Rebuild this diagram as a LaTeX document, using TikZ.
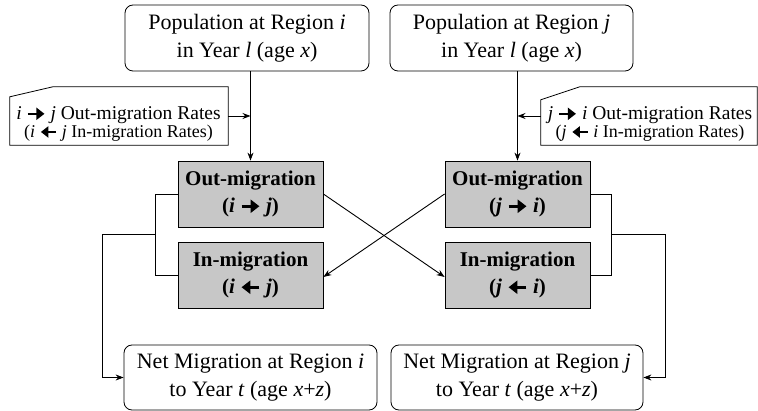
\documentclass[tikz,border=0pt]{standalone}
\usepackage{fontspec}
\setmainfont{Liberation Serif}
\usetikzlibrary{arrows.meta}
\newcommand{\rarr}{\tikz[baseline=0pt]\draw[line width=0.13em,-{Triangle[length=0.42em,width=0.62em]}] (0pt,0.3em) -- (0.85em,0.3em);}
\newcommand{\larr}{\tikz[baseline=0pt]\draw[line width=0.13em,-{Triangle[length=0.42em,width=0.62em]}] (0.85em,0.3em) -- (0pt,0.3em);}
\tikzset{
  popbox/.style={draw, rounded corners=8pt, line width=0.8pt, inner sep=0pt, align=center,
    font=\fontsize{22}{28}\selectfont},
  migbox/.style={draw, fill=black!22, line width=0.8pt, inner sep=0pt, align=center,
    font=\fontsize{21}{27}\selectfont\bfseries},
  ratearea/.style={inner sep=0pt},
  ratetext/.style={inner sep=0pt, align=center},
  conn/.style={line width=0.9pt},
  arr/.style={conn, -{Stealth[length=8pt,width=6pt]}},
}
\begin{document}
\begin{tikzpicture}[x=1pt,y=-1pt]
\useasboundingbox[fill=white] (0,0) rectangle (758,411);
% top boxes
\node[popbox, minimum width=244pt, minimum height=66pt] (topL) at (247,38)
  {Population at Region \textit{i}\\ in Year \textit{l} (age \textit{x})};
\node[popbox, minimum width=243pt, minimum height=66pt] (topR) at (511.5,38)
  {Population at Region \textit{j}\\ in Year \textit{l} (age \textit{x})};
% migration boxes
\node[migbox, minimum width=145pt, minimum height=66pt] (outL) at (250.5,194)
  {Out-migration\\ (\textit{i} \rarr\ \textit{j})};
\node[migbox, minimum width=145pt, minimum height=66pt] (inL) at (250.5,275)
  {In-migration\\ (\textit{i} \larr\ \textit{j})};
\node[migbox, minimum width=145pt, minimum height=66pt] (outR) at (517.5,194)
  {Out-migration\\ (\textit{j} \rarr\ \textit{i})};
\node[migbox, minimum width=145pt, minimum height=66pt] (inR) at (517.5,275)
  {In-migration\\ (\textit{j} \larr\ \textit{i})};
% net boxes
\node[popbox, minimum width=253pt, minimum height=65pt] (netL) at (250.5,377.5)
  {Net Migration at Region \textit{i}\\ to Year \textit{t} (age \textit{x}+\textit{z})};
\node[popbox, minimum width=252pt, minimum height=65pt] (netR) at (517,377.5)
  {Net Migration at Region \textit{j}\\ to Year \textit{t} (age \textit{x}+\textit{z})};
% rate boxes
\node[ratearea, minimum width=218pt, minimum height=58pt] (rateL) at (119,116) {};
\draw[line width=0.8pt] (rateL.south west) -- ([yshift=-10pt]rateL.north west)
  -- ([xshift=43pt]rateL.north west) -- (rateL.north east) -- (rateL.south east) -- cycle;
\node[ratetext] (rateLt) at (118.5,124)
  {{\fontsize{19.5}{22}\selectfont \textit{i} \rarr\ \textit{j} Out-migration Rates}\\
   {\fontsize{18}{17}\selectfont (\textit{i} \larr\ \textit{j} In-migration Rates)}};
\node[ratearea, minimum width=216pt, minimum height=58pt] (rateR) at (649,116) {};
\draw[line width=0.8pt] (rateR.south west) -- ([yshift=-13pt]rateR.north west)
  -- ([xshift=39pt]rateR.north west) -- (rateR.north east) -- (rateR.south east) -- cycle;
\node[ratetext] (rateRt) at (650,124)
  {{\fontsize{19.5}{22}\selectfont \textit{j} \rarr\ \textit{i} Out-migration Rates}\\
   {\fontsize{18}{17}\selectfont (\textit{j} \larr\ \textit{i} In-migration Rates)}};
% vertical connectors
\draw[arr] (outL.north |- topL.south) -- (outL.north);
\draw[arr] (outR.north |- topR.south) -- (outR.north);
\draw[arr] (rateL.east) -- (rateL.east -| outL.north);
\draw[arr] (rateR.west) -- (rateR.west -| outR.north);
% crossing connectors
\draw[arr] (outL.east) -- ([yshift=-2pt]inR.west);
\draw[arr] (outR.west) -- ([yshift=-2pt]inL.east);
% left bracket
\coordinate (bl1) at (155,194);
\coordinate (jl) at (155,234);
\coordinate (ol) at (102,234);
\draw[conn] (outL.west) -- (bl1) -- (bl1 |- inL.west) -- (inL.west);
\draw[arr] (jl) -- (ol) -- (ol |- netL.west) -- (netL.west);
% right bracket
\coordinate (br1) at (611,194);
\coordinate (jr) at (611,234);
\coordinate (or) at (665,234);
\draw[conn] (outR.east) -- (br1) -- (br1 |- inR.east) -- (inR.east);
\draw[arr] (jr) -- (or) -- (or |- netR.east) -- (netR.east);
\end{tikzpicture}
\end{document}
